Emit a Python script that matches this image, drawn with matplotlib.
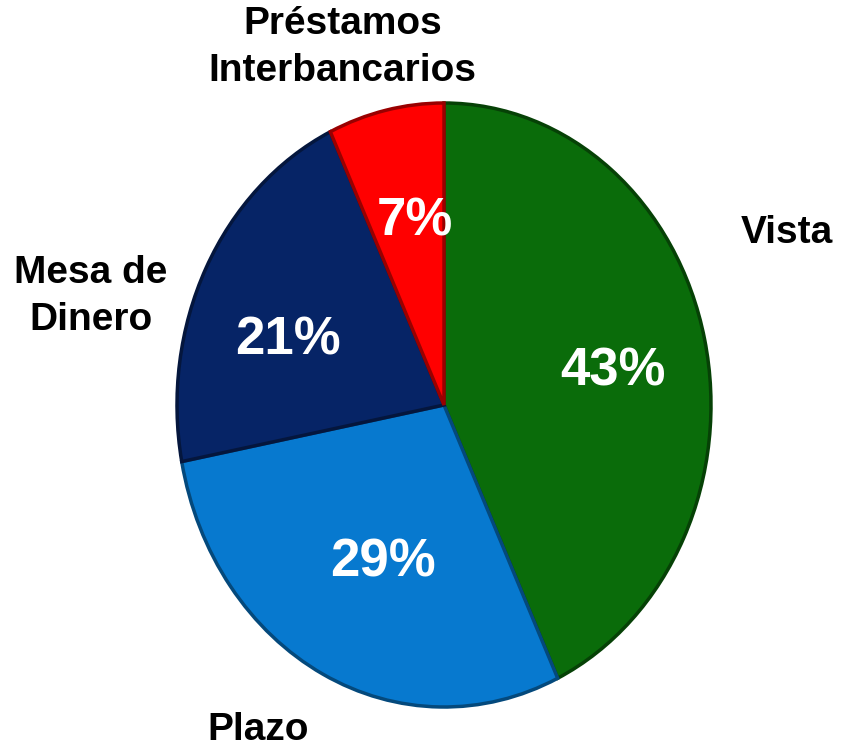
import matplotlib.pyplot as plt
from matplotlib.colors import to_rgb

categorias = ["Vista", "Plazo", "Mesa de\nDinero", "Préstamos\nInterbancarios"]
valores = [43, 29, 21, 7]
colores = ["#0a6c0a", "#0779cf", "#062466", "#ff0000"]

# posiciones de las etiquetas (fracción de figura) y de los porcentajes (radio)
pos_etiquetas = [(0.930, 0.692), (0.305, 0.034), (0.107, 0.608), (0.405, 0.937)]
pos_pct = [(0.633, 0.110), (-0.228, -0.523), (-0.584, 0.215), (-0.108, 0.607)]

plt.rcParams['font.family'] = ['Liberation Sans', 'DejaVu Sans']

fig = plt.figure(figsize=(8.46, 7.56), dpi=100)
ax = fig.add_axes([177 / 846, 49 / 756, 534 / 846, 604 / 756])


def oscurecer(c, f):
    r, g, b = to_rgb(c)
    return (r * f, g * f, b * f)


wedges, _ = ax.pie(valores, colors=colores, startangle=90, counterclock=False,
                   radius=1.0,
                   wedgeprops=dict(linewidth=0))
# bordes con sombra para dar algo de relieve
for w, c in zip(wedges, colores):
    w.set_edgecolor(oscurecer(c, 0.6))
    w.set_linewidth(2.5)

ax.set_aspect('auto')
ax.set_xlim(-1, 1)
ax.set_ylim(-1, 1)
ax.axis('off')

for (x, y), v in zip(pos_pct, valores):
    ax.text(x, y, f"{v}%", color="white", fontsize=38, fontweight="bold",
            ha="center", va="center")

for (x, y), t in zip(pos_etiquetas, categorias):
    fig.text(x, y, t, color="black", fontsize=28, fontweight="bold",
             ha="center", va="center", linespacing=1.38)

fig.savefig("out.png", dpi=100, facecolor="white")
